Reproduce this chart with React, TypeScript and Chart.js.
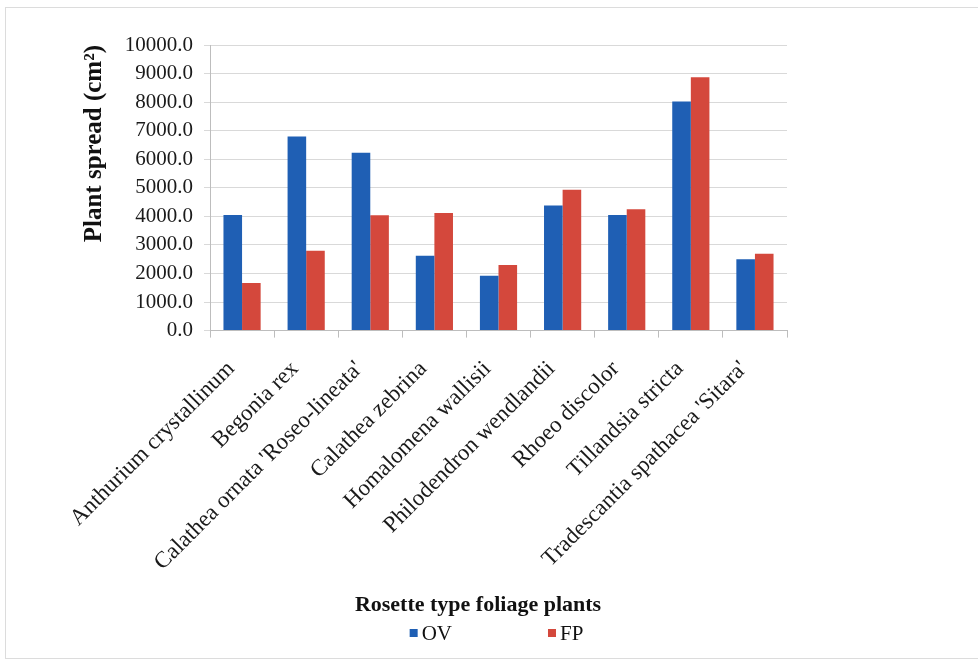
import { useEffect, useRef } from 'react';
import { Chart, registerables } from 'chart.js';

Chart.register(...registerables);

// Rosette type foliage plants and their spread (cm²) under the two treatments
const plants = [
  'Anthurium crystallinum',
  'Begonia rex',
  "Calathea ornata 'Roseo-lineata'",
  'Calathea zebrina',
  'Homalomena wallisii',
  'Philodendron wendlandii',
  'Rhoeo discolor',
  'Tillandsia stricta',
  "Tradescantia spathacea 'Sitara'",
];
const ovSpread = [4050, 6800, 6230, 2620, 1920, 4380, 4050, 8020, 2500];
const fpSpread = [1670, 2800, 4040, 4120, 2300, 4930, 4250, 8870, 2690];
const seriesNames = ['OV', 'FP'];
const yMin = 0;
const yMax = 10000;
const yStep = 1000;

const SERIF = "'Liberation Serif', 'Times New Roman', serif";
const BLUE = '#1f5fb4';
const RED = '#d4483c';

// Legend row drawn under the axis title: small square swatches, serif labels
const bottomLegend = {
  id: 'bottomLegend',
  afterDraw(chart: any) {
    const { ctx, chartArea } = chart;
    const items = chart.data.datasets.map((ds: any) => ({
      text: ds.label as string,
      color: ds.backgroundColor as string,
    }));
    ctx.save();
    ctx.font = `21px ${SERIF}`;
    ctx.textBaseline = 'middle';
    ctx.textAlign = 'left';
    const box = 8;
    const textGap = 4;
    const itemGap = 96;
    const widths = items.map((it: any) => box + textGap + ctx.measureText(it.text).width);
    const total = widths.reduce((a: number, b: number) => a + b, 0) + itemGap * (items.length - 1);
    let x = (chartArea.left + chartArea.right) / 2 - total / 2 - 2;
    const y = chart.height - 27;
    items.forEach((it: any, i: number) => {
      ctx.fillStyle = it.color;
      ctx.fillRect(x, y - box / 2, box, box);
      ctx.fillStyle = '#111';
      ctx.fillText(it.text, x + box + textGap, y + 1);
      x += widths[i] + itemGap;
    });
    ctx.restore();
  },
};

function SpreadChart() {
  const canvasRef = useRef<HTMLCanvasElement | null>(null);

  useEffect(() => {
    if (!canvasRef.current) return;
    const chart = new Chart(canvasRef.current, {
      type: 'bar',
      data: {
        labels: plants,
        datasets: [
          {
            label: seriesNames[0],
            data: ovSpread,
            backgroundColor: BLUE,
            borderWidth: 0,
            categoryPercentage: 0.58,
            barPercentage: 1.0,
          },
          {
            label: seriesNames[1],
            data: fpSpread,
            backgroundColor: RED,
            borderWidth: 0,
            categoryPercentage: 0.58,
            barPercentage: 1.0,
          },
        ],
      },
      options: {
        responsive: false,
        animation: false,
        devicePixelRatio: 1,
        layout: { padding: { left: 0, right: 22, top: 45, bottom: 41 } },
        plugins: {
          legend: { display: false },
          tooltip: { enabled: false },
          title: {
            display: true,
            position: 'bottom',
            text: 'Rosette type foliage plants',
            color: '#111',
            font: { family: SERIF, size: 22, weight: 'bold' },
            padding: 0,
          },
        },
        scales: {
          x: {
            grid: {
              display: true,
              drawOnChartArea: false,
              drawTicks: true,
              tickLength: 7,
              color: '#bdbdbd',
              offset: true,
            },
            border: { display: true, color: '#bdbdbd' },
            ticks: {
              autoSkip: false,
              minRotation: 45,
              maxRotation: 45,
              padding: 18,
              labelOffset: -11,
              color: '#1a1a1a',
              font: { family: SERIF, size: 23 },
            },
            afterFit: (scale: any) => {
              scale.height = 262;
            },
          },
          y: {
            min: yMin,
            max: yMax,
            grid: { color: '#d9d9d9', tickLength: 6, drawTicks: true },
            border: { display: true, color: '#bdbdbd' },
            ticks: {
              stepSize: yStep,
              padding: 11,
              color: '#1a1a1a',
              font: { family: SERIF, size: 21 },
              callback: (v: any) => Number(v).toFixed(1),
            },
            title: {
              display: true,
              text: 'Plant spread (cm²)',
              align: 'end',
              color: '#111',
              font: { family: SERIF, size: 25, weight: 'bold' },
              padding: { top: 80, bottom: 0 },
            },
            afterFit: (scale: any) => {
              scale.width = 210;
            },
          },
          yRight: {
            type: 'linear',
            position: 'right',
            display: true,
            grid: { display: false },
            border: { display: false },
            ticks: { display: false },
            afterFit: (scale: any) => {
              scale.width = 169;
            },
          },
        },
      },
      plugins: [bottomLegend],
    } as any);
    return () => chart.destroy();
  }, []);

  return <canvas ref={canvasRef} width={978} height={660} style={{ display: 'block' }} />;
}

export default function App() {
  return (
    <div style={{ position: 'fixed', left: 0, top: 0, width: 978, height: 660, background: '#fff' }}>
      <SpreadChart />
      <div
        style={{
          position: 'absolute',
          left: 5,
          top: 7,
          width: 980,
          height: 652,
          borderLeft: '1px solid #dcdcdc',
          borderTop: '1px solid #dcdcdc',
          borderBottom: '1px solid #dcdcdc',
          pointerEvents: 'none',
          boxSizing: 'border-box',
        }}
      />
    </div>
  );
}
